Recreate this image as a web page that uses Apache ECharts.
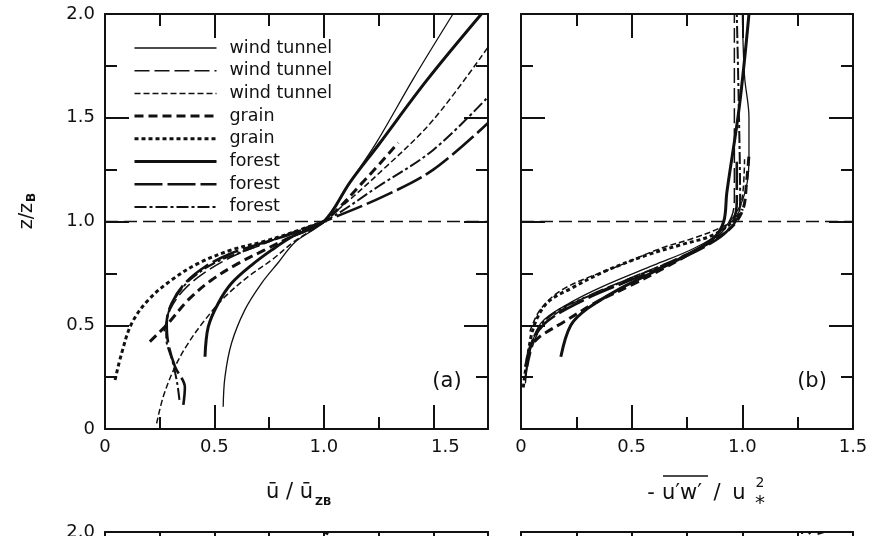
<!DOCTYPE html>
<html><head><meta charset="utf-8">
<script src="https://cdn.jsdelivr.net/npm/echarts@6/dist/echarts.min.js"></script>
<style>html,body{margin:0;padding:0;background:#fff}#c{width:878px;height:536px}</style>
</head><body><div id="c"></div><script>
// ---------- data ----------
const seriesKeys = ['wt1','wt2','wt3','gr1','gr2','fo1','fo2','fo3'];
const legendNames = ['wind tunnel','wind tunnel','wind tunnel','grain','grain','forest','forest','forest'];
const xTickLabelsA = ['0','0.5','1.0','1.5'];
const xTickLabelsB = ['0','0.5','1.0','1.5'];
const yTickLabels = ['0','0.5','1.0','1.5','2.0'];

// panel (a): u / u_zB  vs z/zB
const a_wt1 = [[0.54,0.107],[0.548,0.25],[0.578,0.413],[0.639,0.574],[0.715,0.702],[0.79,0.80],[0.868,0.90],[1.0,1.0],[1.12,1.19],[1.24,1.38],[1.41,1.69],[1.59,2.0]];
const a_wt2 = [[0.27,0.47],[0.30,0.58],[0.36,0.67],[0.45,0.75],[0.58,0.83],[0.72,0.89],[0.86,0.95],[1.0,1.0]];
const a_wt3 = [[0.236,0.027],[0.266,0.155],[0.32,0.30],[0.38,0.413],[0.457,0.526],[0.548,0.637],[0.654,0.734],[0.761,0.814],[0.86,0.90],[1.0,1.0],[1.27,1.25],[1.5,1.49],[1.75,1.84]];
const a_gr1 = [[0.205,0.421],[0.289,0.51],[0.38,0.622],[0.487,0.718],[0.609,0.798],[0.73,0.863],[0.852,0.927],[1.0,1.0],[1.17,1.18],[1.34,1.38]];
const a_gr2 = [[0.046,0.236],[0.076,0.365],[0.122,0.509],[0.198,0.622],[0.304,0.718],[0.426,0.798],[0.578,0.863],[0.73,0.905],[0.85,0.945],[1.0,1.0]];
const a_fo1 = [[0.457,0.348],[0.472,0.493],[0.517,0.605],[0.578,0.702],[0.67,0.79],[0.761,0.862],[0.86,0.93],[1.0,1.0],[1.12,1.19],[1.25,1.37],[1.47,1.68],[1.72,2.0]];
const a_fo2 = [[0.358,0.116],[0.365,0.2],[0.32,0.30],[0.289,0.413],[0.282,0.51],[0.304,0.605],[0.365,0.702],[0.457,0.782],[0.578,0.847],[0.715,0.895],[0.85,0.94],[1.0,1.0],[1.27,1.12],[1.5,1.25],[1.75,1.475]];
const a_fo3 = [[0.34,0.14],[0.33,0.22],[0.31,0.32],[0.28,0.44],[0.285,0.54],[0.32,0.63],[0.39,0.72],[0.5,0.80],[0.64,0.86],[0.79,0.92],[1.0,1.0],[1.25,1.17],[1.5,1.345],[1.75,1.6]];

// panel (b): -u'w'/u*^2 vs z/zB
const b_wt1 = [[0.02,0.22],[0.04,0.37],[0.09,0.51],[0.225,0.61],[0.375,0.69],[0.6,0.79],[0.78,0.87],[0.9,0.95],[1.0,1.1],[1.03,1.3],[1.03,1.5],[1.01,1.7],[1.0,2.0]];
const b_wt2 = [[0.03,0.30],[0.07,0.45],[0.15,0.55],[0.3,0.64],[0.5,0.73],[0.7,0.82],[0.88,0.92],[0.95,1.02],[0.964,1.12],[0.964,1.5],[0.964,2.0]];
const b_wt3 = [[0.04,0.47],[0.09,0.58],[0.2,0.68],[0.45,0.79],[0.63,0.87],[0.78,0.92],[0.9,0.97],[0.97,1.02],[1.0,1.12],[1.01,1.3]];
const b_gr1 = [[0.06,0.42],[0.09,0.45],[0.195,0.517],[0.345,0.614],[0.5,0.694],[0.646,0.775],[0.78,0.855],[0.93,0.952],[1.0,1.05],[1.02,1.2],[1.03,1.32]];
const b_gr2 = [[0.01,0.2],[0.03,0.35],[0.06,0.5],[0.12,0.61],[0.225,0.677],[0.375,0.758],[0.57,0.839],[0.72,0.887],[0.87,0.936],[0.976,1.016],[1.0,1.06]];
const b_fo1 = [[0.18,0.348],[0.225,0.5],[0.3,0.58],[0.45,0.678],[0.6,0.758],[0.75,0.839],[0.87,0.92],[0.916,1.0],[0.93,1.14],[0.986,1.55],[1.03,2.0]];
const b_fo2 = [[0.02,0.30],[0.05,0.42],[0.12,0.52],[0.3,0.63],[0.5,0.72],[0.7,0.81],[0.88,0.91],[0.95,0.98],[0.975,1.1],[0.975,1.3]];
const b_fo3 = [[0.02,0.25],[0.06,0.45],[0.15,0.56],[0.35,0.66],[0.55,0.75],[0.75,0.84],[0.9,0.93],[0.97,1.0],[0.99,1.1],[0.985,1.5],[0.975,2.0]];

// reference line z/zB = 1
const refLineA = [[0,1],[1.75,1]];
const refLineB = [[0,1],[1.5,1]];

// tops of the next row of panels (cut off at the bottom of the picture)
const c_frag = [[1.0,2.0],[1.02,1.96]];
const d_frag1 = [[1.27,2.0],[1.27,1.96]];
const d_frag2 = [[1.31,2.0],[1.30,1.96]];
const d_frag3 = [[1.37,2.0],[1.34,1.96]];

// ---------- styles ----------
const INK = '#111';
const FONT = 'DejaVu Sans';
const lineStyles = [
  {width:1.3, type:'solid'},
  {width:1.5, type:[15,5]},
  {width:1.5, type:[6,3]},
  {width:3, type:[9,5]},
  {width:3, type:[4,3]},
  {width:3, type:'solid'},
  {width:2.6, type:[28,5]},
  {width:2, type:[12,3,3,3]}
];
const dataA = [a_wt1,a_wt2,a_wt3,a_gr1,a_gr2,a_fo1,a_fo2,a_fo3];
const dataB = [b_wt1,b_wt2,b_wt3,b_gr1,b_gr2,b_fo1,b_fo2,b_fo3];

const grids = [
  {left:105, top:14, width:383, height:415},
  {left:521, top:14, width:332, height:415},
  {left:105, top:532, width:383, height:415},
  {left:521, top:532, width:332, height:415}
];

function labelFmtX(labels){
  return function(v){
    const i = Math.round(v/0.5);
    if (Math.abs(v - i*0.5) > 1e-6) return '';
    const t = labels[i];
    return t === undefined ? '' : t;
  };
}
const tickStyle = {color:INK, width:2};
function xAxesFor(g, max, labels){
  const base = {type:'value', gridIndex:g, min:0, max:max, splitLine:{show:false}};
  const fmt = labels ? labelFmtX(labels) : null;
  return [
    Object.assign({}, base, {position:'bottom', interval:0.5,
      axisLine:{show:true, onZero:false, lineStyle:{color:INK, width:2}},
      axisTick:{show:true, inside:true, length:24, lineStyle:tickStyle},
      axisLabel:{show:!!labels, showMaxLabel: max===1.5, margin:9, fontFamily:FONT, fontSize:18, color:INK,
        formatter: labels ? function(v){
          const t = fmt(v);
          if (g===0 && t==='1.5') return '{s|1.5}';
          return t;
        } : undefined,
        rich:{s:{fontFamily:FONT, fontSize:18, color:INK, padding:[0,0,0,24]}}
      }}),
    Object.assign({}, base, {position:'bottom', interval:0.25,
      axisLine:{show:false, onZero:false}, axisLabel:{show:false},
      axisTick:{show:true, inside:true, length:12, lineStyle:tickStyle}}),
    Object.assign({}, base, {position:'top', interval:0.5,
      axisLine:{show:true, onZero:false, lineStyle:{color:INK, width:2}}, axisLabel:{show:false},
      axisTick:{show:true, inside:true, length:24, lineStyle:tickStyle}}),
    Object.assign({}, base, {position:'top', interval:0.25,
      axisLine:{show:false, onZero:false}, axisLabel:{show:false},
      axisTick:{show:true, inside:true, length:12, lineStyle:tickStyle}})
  ];
}
function yAxesFor(g, showLabels){
  const base = {type:'value', gridIndex:g, min:0, max:2, splitLine:{show:false}};
  return [
    Object.assign({}, base, {position:'left', interval:0.5,
      axisLine:{show:true, onZero:false, lineStyle:{color:INK, width:2}},
      axisTick:{show:true, inside:true, length:24, lineStyle:tickStyle},
      axisLabel:{show:showLabels, margin:10, fontFamily:FONT, fontSize:18, color:INK,
        formatter:function(v){ const i=Math.round(v/0.5); return yTickLabels[i]||''; }}}),
    Object.assign({}, base, {position:'left', interval:0.25,
      axisLine:{show:false, onZero:false}, axisLabel:{show:false},
      axisTick:{show:true, inside:true, length:12, lineStyle:tickStyle}}),
    Object.assign({}, base, {position:'right', interval:0.5,
      axisLine:{show:true, onZero:false, lineStyle:{color:INK, width:2}}, axisLabel:{show:false},
      axisTick:{show:true, inside:true, length:24, lineStyle:tickStyle}}),
    Object.assign({}, base, {position:'right', interval:0.25,
      axisLine:{show:false, onZero:false}, axisLabel:{show:false},
      axisTick:{show:true, inside:true, length:12, lineStyle:tickStyle}})
  ];
}

const xAxis = [].concat(
  xAxesFor(0, 1.75, xTickLabelsA),
  xAxesFor(1, 1.5, xTickLabelsB),
  xAxesFor(2, 1.75, null),
  xAxesFor(3, 1.5, null)
);
const yAxis = [].concat(
  yAxesFor(0, true), yAxesFor(1, false), yAxesFor(2, true), yAxesFor(3, false)
);

const series = [];
function addSeries(name, g, data, ls, smooth){
  series.push({name:name, type:'line', xAxisIndex:4*g, yAxisIndex:4*g, data:data,
    smooth:smooth, symbol:'none', silent:true,
    lineStyle:Object.assign({color:INK}, ls), itemStyle:{color:INK}});
}
seriesKeys.forEach((k,i)=>addSeries(k, 0, dataA[i], lineStyles[i], 0.35));
seriesKeys.forEach((k,i)=>addSeries(k, 1, dataB[i], lineStyles[i], 0.35));
addSeries('ref', 0, refLineA, {width:1.5, type:[13,6]}, false);
addSeries('ref', 1, refLineB, {width:1.5, type:[13,6]}, false);
addSeries('frag', 2, c_frag, {width:2.5}, false);
addSeries('frag', 3, d_frag1, {width:2}, false);
addSeries('frag', 3, d_frag2, {width:2}, false);
addSeries('frag', 3, d_frag3, {width:2}, false);

const T = (x, y, text, size, align, extra) => ({type:'text', x:x, y:y,
  style:Object.assign({text:text, fontFamily:FONT, fontSize:size, fill:INK, align:align||'center', verticalAlign:'middle'}, extra||{})});

const legendData = seriesKeys.map((k,i)=>({
  name:k,
  itemStyle:{color:'rgba(0,0,0,0)', opacity:0, borderWidth:0},
  lineStyle:{color:INK, width:lineStyles[i].width, type:lineStyles[i].type, opacity:1}
}));

const chart = echarts.init(document.getElementById('c'), null, {renderer:'canvas'});
chart.setOption({
  animation:false,
  backgroundColor:'#fff',
  grid:grids,
  xAxis:xAxis,
  yAxis:yAxis,
  legend:{
    orient:'vertical', left:128, top:33, itemWidth:82, itemHeight:14, itemGap:2.7,
    selectedMode:false, data:legendData,
    itemStyle:{color:'rgba(0,0,0,0)', opacity:0, borderWidth:0},
    formatter:function(n){ return legendNames[seriesKeys.indexOf(n)]; },
    textStyle:{fontFamily:FONT, fontSize:17.5, color:INK, lineHeight:20, padding:[0,0,0,8]}
  },
  series:series,
  graphic:[
    T(447, 382, '(a)', 21),
    T(812, 382, '(b)', 21),
    {type:'group', x:27, y:208, rotation:Math.PI/2, children:[
      T(5, 0, 'z/z', 19, 'right'),
      T(6, 5, 'B', 12, 'left', {fontWeight:'bold'})
    ]},
    T(313, 493, 'ū / ū', 21, 'right'),
    T(315, 502, 'ZB', 11, 'left', {fontWeight:'bold'}),
    T(651, 494, '-', 21),
    T(662, 494, 'u′w′', 21, 'left'),
    T(717, 494, '/', 21),
    T(739, 494, 'u', 21),
    {type:'line', shape:{x1:663, y1:476, x2:708, y2:476}, style:{stroke:INK, lineWidth:1.6}},
    T(760, 483, '2', 14),
    T(760, 504, '*', 20)
  ]
});
</script></body></html>
